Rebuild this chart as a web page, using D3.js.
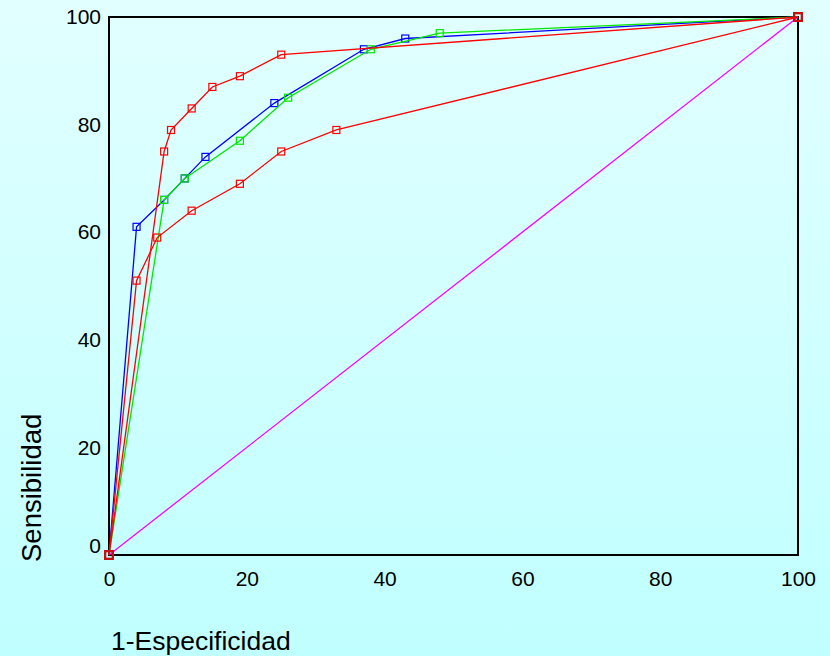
<!DOCTYPE html>
<html lang="es">
  <head>
    <meta charset="UTF-8" />
    <title>Curvas ROC</title>
    <script src="https://d3js.org/d3.v7.min.js"></script>
    <style>
      html, body { margin: 0; padding: 0; }
      body { width: 830px; height: 656px; overflow: hidden; }
    </style>
  </head>
  <body>
    <div id="chart"></div>
  </body>
</html>

<script>
  // 1-Especificidad (x) / Sensibilidad (y) for each curve
  const blueX = [0, 4, 8, 11, 14, 24, 37, 43, 100]
  const blueY = [0, 61, 66, 70, 74, 84, 94, 96, 100]
  const greenX = [0, 8, 11, 19, 26, 38, 48, 100]
  const greenY = [0, 66, 70, 77, 85, 94, 97, 100]
  const redLowX = [0, 4, 7, 12, 19, 25, 33, 100]
  const redLowY = [0, 51, 59, 64, 69, 75, 79, 100]
  const redHighX = [0, 8, 9, 12, 15, 19, 25, 100]
  const redHighY = [0, 75, 79, 83, 87, 89, 93, 100]
  const diagX = [0, 100]
  const diagY = [0, 100]

  const ticks = [0, 20, 40, 60, 80, 100]

  const width = 830
  const height = 656
  const margin = { left: 109, right: 32, top: 17, bottom: 101 }

  const svg = d3
    .select("#chart")
    .append("svg")
    .attr("width", width)
    .attr("height", height)
    .style("font-family", "'Liberation Sans', Arial, sans-serif")

  // background gradient
  const grad = svg.append("defs").append("linearGradient")
    .attr("id", "bg").attr("x1", 0).attr("y1", 0).attr("x2", 0).attr("y2", 1)
  grad.append("stop").attr("offset", "0%").attr("stop-color", "#e2ffff")
  grad.append("stop").attr("offset", "100%").attr("stop-color", "#c0ffff")
  svg.append("rect").attr("width", width).attr("height", height).attr("fill", "url(#bg)")

  const x = d3.scaleLinear().domain([0, 100]).range([margin.left, width - margin.right])
  const y = d3.scaleLinear().domain([0, 100]).range([height - margin.bottom, margin.top])

  // frame
  svg.append("rect")
    .attr("x", x(0)).attr("y", y(100))
    .attr("width", x(100) - x(0)).attr("height", y(0) - y(100))
    .attr("fill", "none").attr("stroke", "#000").attr("stroke-width", 2)

  // axes
  const xAxis = svg.append("g")
    .attr("transform", `translate(0,${y(0)})`)
    .call(d3.axisBottom(x).tickValues(ticks).tickSize(0).tickPadding(16))
  const yAxis = svg.append("g")
    .attr("transform", `translate(${x(0)},0)`)
    .call(d3.axisLeft(y).tickValues(ticks).tickSize(0).tickPadding(8))

  svg.selectAll(".domain").remove()
  svg.selectAll(".tick text")
    .attr("font-size", 21)
    .attr("font-family", "'Liberation Sans', Arial, sans-serif")
    .attr("fill", "#000")
  // the "0" on the y axis sits a bit higher than the axis line
  yAxis.selectAll(".tick text").filter((d) => d === 0).attr("dy", "-0.12em")

  const series = [
    { xs: diagX, ys: diagY, color: "#ff00ff", marks: false },
    { xs: blueX, ys: blueY, color: "#0000ff", marks: true },
    { xs: greenX, ys: greenY, color: "#00e800", marks: true },
    { xs: redLowX, ys: redLowY, color: "#ff0000", marks: true },
    { xs: redHighX, ys: redHighY, color: "#ff0000", marks: true },
  ]

  const line = d3.line().x((d) => x(d[0])).y((d) => y(d[1]))

  series.forEach((s) => {
    const pts = s.xs.map((v, i) => [v, s.ys[i]])
    svg.append("path")
      .datum(pts)
      .attr("d", line)
      .attr("fill", "none")
      .attr("stroke", s.color)
      .attr("stroke-width", 1.3)
    if (s.marks) {
      svg.selectAll(null)
        .data(pts)
        .enter()
        .append("rect")
        .attr("x", (d) => x(d[0]) - 3.5)
        .attr("y", (d) => y(d[1]) - 3.5)
        .attr("width", 7)
        .attr("height", 7)
        .attr("fill", "none")
        .attr("stroke", s.color)
        .attr("stroke-width", 1.2)
    }
  })

  // end markers look darker where all curves meet
  svg.selectAll(null)
    .data([[0, 0], [100, 100]])
    .enter()
    .append("rect")
    .attr("x", (d) => x(d[0]) - 4)
    .attr("y", (d) => y(d[1]) - 4)
    .attr("width", 8)
    .attr("height", 8)
    .attr("fill", "none")
    .attr("stroke", "#c81010")
    .attr("stroke-width", 2)

  // axis titles
  svg.append("text")
    .attr("x", 111)
    .attr("y", 650)
    .attr("font-size", 26.5)
    .attr("fill", "#000")
    .text("1-Especificidad")

  svg.append("text")
    .attr("transform", "translate(41,562) rotate(-90)")
    .attr("font-size", 27.5)
    .attr("fill", "#000")
    .text("Sensibilidad")
</script>
